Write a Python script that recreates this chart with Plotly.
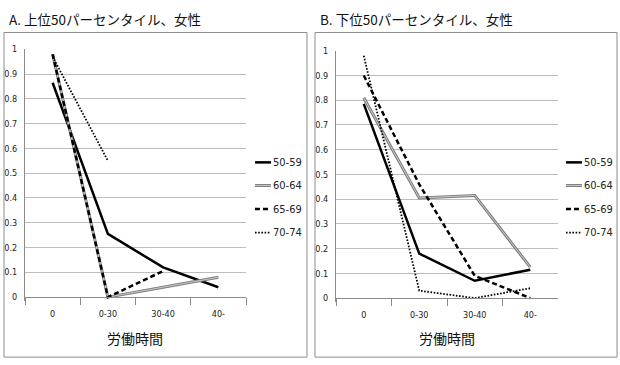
import plotly.graph_objects as go

W, H = 620, 365
categories = ["0", "0-30", "30-40", "40-"]
series_names = ["50-59", "60-64", "65-69", "70-74"]

# Panel A: upper 50th percentile, women
a_50_59 = [0.865, 0.255, 0.12, 0.04]
a_60_64 = [0.98, 0.0, 0.04, 0.08]
a_65_69 = [0.98, 0.0, 0.105, None]
a_70_74 = [0.97, 0.55, None, None]

# Panel B: lower 50th percentile, women
b_50_59 = [0.785, 0.18, 0.07, 0.115]
b_60_64 = [0.81, 0.405, 0.415, 0.125]
b_65_69 = [0.90, 0.46, 0.09, 0.0]
b_70_74 = [0.98, 0.03, 0.0, 0.04]

titles = ["A. 上位50パーセンタイル、女性", "B. 下位50パーセンタイル、女性"]
x_title = "労働時間"
y_ticks = [0, 0.1, 0.2, 0.3, 0.4, 0.5, 0.6, 0.7, 0.8, 0.9, 1]
y_ticktext = ["0", "0.1", "0.2", "0.3", "0.4", "0.5", "0.6", "0.7", "0.8", "0.9", "1"]

styles = [
    dict(color="black", width=2.5, dash="solid"),
    dict(color="#7f7f7f", width=3, dash="solid"),
    dict(color="black", width=2.5, dash="5px,3px"),
    dict(color="black", width=1.8, dash="1.6px,1.6px"),
]

CJK = "Noto Sans CJK JP"
TICKF = "Liberation Sans Narrow, DejaVu Sans Condensed, Noto Sans"

def px(x):
    return x / W

def py(y):
    return 1 - y / H

fig = go.Figure()

panels = [
    dict(data=[a_50_59, a_60_64, a_65_69, a_70_74], xa="x", ya="y",
         xdom=[px(25), px(246)], zero=297, one=45, leg_x=255, title_x=7, xt_x=135,
         box=(4, 307)),
    dict(data=[b_50_59, b_60_64, b_65_69, b_70_74], xa="x2", ya="y2",
         xdom=[px(336), px(558)], zero=298, one=46.5, leg_x=566, title_x=318, xt_x=447,
         box=(315, 617)),
]

for p in panels:
    for i, (name, vals) in enumerate(zip(series_names, p["data"])):
        st = styles[i]
        fig.add_trace(go.Scatter(
            x=categories, y=vals, name=name, mode="lines",
            line=dict(color=st["color"], width=st["width"], dash=st["dash"]),
            xaxis=p["xa"], yaxis=p["ya"], showlegend=False,
            connectgaps=False, hoverinfo="skip",
        ))
        if name == "60-64":
            fig.add_trace(go.Scatter(
                x=categories, y=vals, mode="lines", showlegend=False,
                line=dict(color="#c8c8c8", width=1),
                xaxis=p["xa"], yaxis=p["ya"], hoverinfo="skip",
            ))

pad = 0.015
layout = dict(
    width=W, height=H, margin=dict(l=0, r=0, t=0, b=0),
    paper_bgcolor="white", plot_bgcolor="white", showlegend=False,
)

for k, p in enumerate(panels):
    scale = (p["zero"] - p["one"])
    bottom_px = p["zero"] + pad * scale
    sfx = "" if k == 0 else "2"
    layout["xaxis" + sfx] = dict(
        type="category", domain=p["xdom"], anchor="free", position=py(p["zero"]),
        showline=True, linecolor="#8c8c8c", linewidth=1,
        ticks="outside", tickson="boundaries", ticklen=7, tickcolor="#8c8c8c",
        tickfont=dict(family=TICKF, size=9, color="#222"),
        showgrid=False, zeroline=False, range=[-0.5, 3.5], fixedrange=True,
        ticklabelstandoff=8,
    )
    layout["yaxis" + sfx] = dict(
        domain=[py(bottom_px), py(p["one"])], anchor="x" + sfx,
        range=[-pad, 1.0], tickvals=y_ticks, ticktext=y_ticktext,
        showline=True, linecolor="#8c8c8c", linewidth=1,
        showgrid=True, gridcolor="#bdbdbd", gridwidth=1, zeroline=False,
        ticks="", tickfont=dict(family=TICKF, size=9, color="#222"),
        ticklabelstandoff=5, fixedrange=True,
    )

fig.update_layout(**layout)

shapes = []
annotations = []
leg_ys = [160, 183.5, 207.5, 231.5]
for k, p in enumerate(panels):
    x0, x1 = p["box"]
    shapes.append(dict(type="rect", xref="paper", yref="paper",
                       x0=px(x0), x1=px(x1), y0=py(358), y1=py(28),
                       line=dict(color="#8c8c8c", width=1), fillcolor="rgba(0,0,0,0)"))
    # legend
    for i, name in enumerate(series_names):
        st = styles[i]
        ly = leg_ys[i]
        lx = p["leg_x"]
        shapes.append(dict(type="line", xref="paper", yref="paper",
                           x0=px(lx), x1=px(lx + 16), y0=py(ly), y1=py(ly),
                           line=dict(color=st["color"], width=st["width"], dash=st["dash"])))
        if name == "60-64":
            shapes.append(dict(type="line", xref="paper", yref="paper",
                               x0=px(lx), x1=px(lx + 16), y0=py(ly), y1=py(ly),
                               line=dict(color="#c8c8c8", width=1)))
        annotations.append(dict(text=name, x=px(lx + 16), y=py(ly), xref="paper", yref="paper",
                                xanchor="left", yanchor="middle", showarrow=False,
                                font=dict(family=TICKF, size=11, color="#222")))
    annotations.append(dict(text=titles[k], x=px(p["title_x"]), y=py(14), xref="paper", yref="paper",
                            xanchor="left", yanchor="middle", showarrow=False,
                            font=dict(family=CJK, size=13.5, color="#111")))
    annotations.append(dict(text=x_title, x=px(p["xt_x"]), y=py(339), xref="paper", yref="paper",
                            xanchor="center", yanchor="middle", showarrow=False,
                            font=dict(family=CJK, size=14, color="#111")))

fig.update_layout(shapes=shapes, annotations=annotations)

fig.write_html("out.html", config={"displayModeBar": False, "staticPlot": True},
               post_script="document.body.style.margin='0px';document.body.style.overflow='hidden';")
